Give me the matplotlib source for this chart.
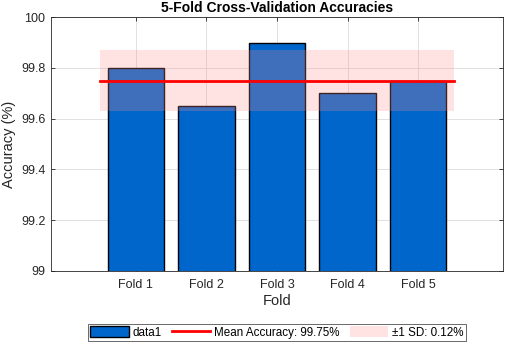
import matplotlib
matplotlib.use("Agg")
import matplotlib.pyplot as plt
from matplotlib.patches import Patch
from matplotlib.lines import Line2D

plt.rcParams['font.family'] = ['Liberation Sans', 'DejaVu Sans']

folds = ["Fold 1", "Fold 2", "Fold 3", "Fold 4", "Fold 5"]
accuracies = [99.80, 99.65, 99.90, 99.70, 99.75]
mean_acc = 99.75
sd_acc = 0.12

fig = plt.figure(figsize=(5.05, 3.44), dpi=100)
ax = fig.add_axes([0.101, 0.213, 0.895, 0.737])

x = list(range(1, len(folds) + 1))
bar_color = '#0066CC'
dark = '#262626'

ax.bar(x, accuracies, width=0.8, color=bar_color, edgecolor='black', linewidth=1.0, zorder=2, label='data1')
ax.fill_between([0.5, len(folds) + 0.5], mean_acc - sd_acc, mean_acc + sd_acc,
                color=(1.0, 0.55, 0.55), alpha=0.25, linewidth=0, zorder=3)
ax.plot([0.5, len(folds) + 0.5], [mean_acc, mean_acc], color=(1, 0, 0), linewidth=2, zorder=4)

ax.set_xlim(-0.2, 6.2)
ax.set_ylim(99, 100)
ax.set_xticks(x)
ax.set_xticklabels(folds)
ax.set_yticks([99, 99.2, 99.4, 99.6, 99.8, 100])
ax.set_yticklabels(['99', '99.2', '99.4', '99.6', '99.8', '100'])
ax.tick_params(direction='in', length=3, width=0.6, colors=dark, labelsize=9,
               top=True, right=True, labeltop=False, labelright=False)
ax.tick_params(axis='x', pad=6)
ax.tick_params(axis='y', pad=4)
ax.grid(True, color='#dcdcdc', linewidth=0.6)
ax.set_axisbelow(True)
for s in ax.spines.values():
    s.set_color(dark)
    s.set_linewidth(0.6)

ax.set_xlabel('Fold', fontsize=10.5, color=dark, labelpad=2)
ax.set_ylabel('Accuracy (%)', fontsize=10.5, color=dark, labelpad=4)
ax.set_title('5-Fold Cross-Validation Accuracies', fontsize=10, fontweight='bold', color='black', pad=4)

handles = [
    Patch(facecolor=bar_color, edgecolor='black', linewidth=1.0),
    Line2D([0], [0], color='red', linewidth=2),
    Patch(facecolor=(1.0, 0.55, 0.55), alpha=0.25, linewidth=0),
]
labels = ['data1', 'Mean Accuracy: %.2f%%' % mean_acc, '\u00b11 SD: %.2f%%' % sd_acc]
leg = fig.legend(handles, labels, loc='center', bbox_to_anchor=(0.548, 0.034), ncol=3,
                 fontsize=8.4, frameon=True, fancybox=False, edgecolor=dark,
                 handlelength=3.3, handleheight=1.1, handletextpad=0.3, columnspacing=0.9,
                 borderpad=0.2, borderaxespad=0)
leg.get_frame().set_linewidth(0.6)

fig.savefig('out.png', dpi=100)
